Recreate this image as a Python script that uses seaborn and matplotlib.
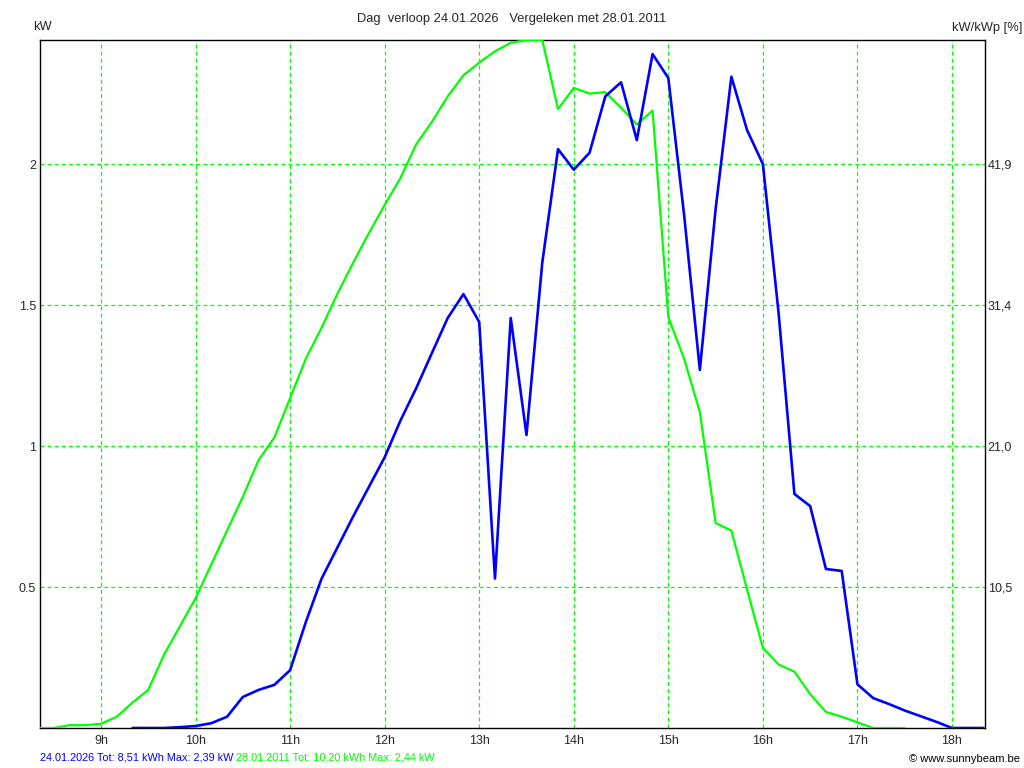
import matplotlib
matplotlib.use("Agg")
import matplotlib.pyplot as plt
import seaborn as sns
import pandas as pd
import numpy as np

# ---- data ----
# 24.01.2026 (blue) : 10-minute values from 09:20 to 18:20
blue_start = "09:20"
blue_kw = [0.0, 0.0, 0.0, 0.003, 0.007, 0.017, 0.04, 0.11, 0.135, 0.153,
           0.205, 0.376, 0.53, 0.64, 0.75, 0.855, 0.96, 1.09, 1.205, 1.33,
           1.454, 1.539, 1.44, 0.53, 1.454, 1.039, 1.65, 2.053, 1.98, 2.04,
           2.24, 2.29, 2.085, 2.39, 2.305, 1.82, 1.27, 1.84, 2.31, 2.12,
           2.0, 1.47, 0.83, 0.787, 0.564, 0.557, 0.155, 0.106, 0.085, 0.062,
           0.042, 0.022, 0.0, 0.0, 0.0]
# 28.01.2011 (green) : 10-minute values from 08:20 to 17:30
green_start = "08:20"
green_kw = [0.0, 0.0, 0.01, 0.01, 0.015, 0.04, 0.09, 0.135, 0.26, 0.36,
            0.46, 0.58, 0.70, 0.82, 0.95, 1.03, 1.17, 1.31, 1.42, 1.54,
            1.65, 1.755, 1.855, 1.95, 2.07, 2.15, 2.24, 2.315, 2.36, 2.40,
            2.43, 2.44, 2.44, 2.195, 2.27, 2.25, 2.255, 2.20, 2.14, 2.19,
            1.457, 1.31, 1.12, 0.727, 0.70, 0.49, 0.284, 0.225, 0.20, 0.12,
            0.057, 0.04, 0.02, 0.0, 0.0, 0.0]

hour_ticks = [9, 10, 11, 12, 13, 14, 15, 16, 17, 18]
hour_labels = ["9h", "10h", "11h", "12h", "13h", "14h", "15h", "16h", "17h", "18h"]
kw_ticks = [0.5, 1.0, 1.5, 2.0]
kw_labels = ["0.5", "1", "1.5", "2"]
pct_labels = ["10,5", "21,0", "31,4", "41,9"]

title = "Dag  verloop 24.01.2026   Vergeleken met 28.01.2011"
legend_blue = "24.01.2026 Tot: 8,51 kWh Max: 2,39 kW "
legend_green = "28.01.2011 Tot: 10,20 kWh Max: 2,44 kW"
copyright_txt = "\u00a9 www.sunnybeam.be"


def times(start, n):
    h, m = map(int, start.split(":"))
    t0 = h + m / 60.0
    return [t0 + i / 6.0 for i in range(n)]


df_blue = pd.DataFrame({"hour": times(blue_start, len(blue_kw)), "kW": blue_kw})
df_green = pd.DataFrame({"hour": times(green_start, len(green_kw)), "kW": green_kw})

# ---- style ----
sns.set_style("white")
plt.rcParams['font.family'] = ['Liberation Sans', 'DejaVu Sans']
plt.rcParams['lines.scale_dashes'] = False

BLUE = "#0000ff"
GREEN = "#00ff00"
GRID = "#00ff00"

fig = plt.figure(figsize=(10.24, 7.68), dpi=100)
W, H = 1024, 768
ax = fig.add_axes([40 / W, 1 - 728 / H, (985 - 40) / W, (728 - 40) / H])

sns.lineplot(data=df_green, x="hour", y="kW", ax=ax, color=GREEN, lw=1.6,
             estimator=None, sort=False, zorder=3)
sns.lineplot(data=df_blue, x="hour", y="kW", ax=ax, color=BLUE, lw=1.9,
             estimator=None, sort=False, zorder=4)

ax.set_xlim(8.355, 18.349)
ax.set_ylim(0, 2.44)
ax.set_xticks(hour_ticks)
ax.set_xticklabels(hour_labels, fontsize=9)
ax.set_yticks(kw_ticks)
ax.set_yticklabels(kw_labels, fontsize=9)
ax.set_xlabel("")
ax.set_ylabel("")
ax.tick_params(axis="both", length=0)
ax.tick_params(axis="x", pad=5)
ax.tick_params(axis="y", pad=3)
ax.grid(True, color=GRID, lw=0.9, linestyle=(0, (2.9, 2.2)))
ax.set_axisbelow(True)
for s in ax.spines.values():
    s.set_color("black")
    s.set_linewidth(1.0)
    s.set_visible(True)

ax2 = ax.twinx()
ax2.set_ylim(0, 2.44)
ax2.set_yticks(kw_ticks)
ax2.set_yticklabels(pct_labels, fontsize=9)
ax2.tick_params(axis="y", length=0, pad=2)
for s in ax2.spines.values():
    s.set_visible(False)

fig.text(512 / W, 1 - 19 / H, title, ha="center", va="center", fontsize=9.3)
fig.text(33 / W, 1 - 27 / H, "kW", ha="left", va="center", fontsize=9.3)
fig.text(1022 / W, 1 - 28 / H, "kW/kWp [%]", ha="right", va="center", fontsize=9.3)

t1 = fig.text(40 / W, 1 - 757 / H, legend_blue, ha="left", va="center",
              fontsize=7.8, color=BLUE)
fig.canvas.draw()
bb = t1.get_window_extent(renderer=fig.canvas.get_renderer())
fig.text(bb.x1 / W, 1 - 757 / H, legend_green, ha="left", va="center",
         fontsize=7.8, color=GREEN)
fig.text(1020 / W, 1 - 759 / H, copyright_txt, ha="right", va="center",
         fontsize=8, color="black")

fig.savefig("out.png", dpi=100, facecolor="white")
